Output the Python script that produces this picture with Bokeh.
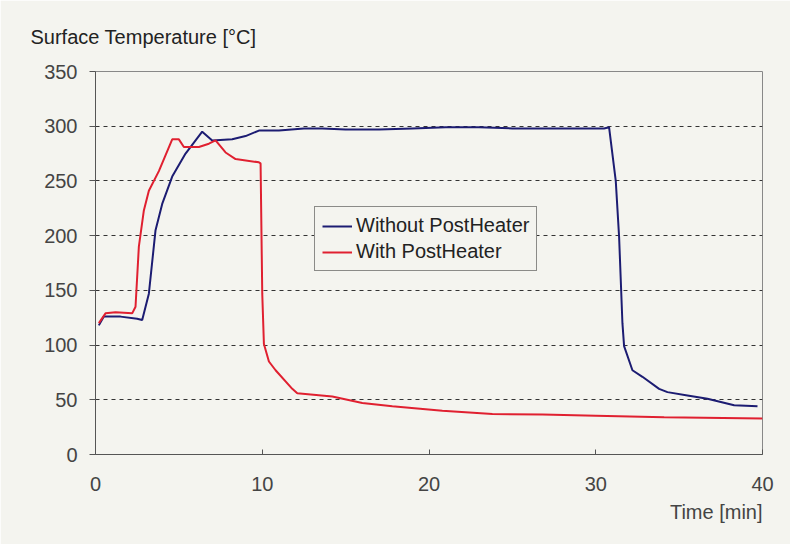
from bokeh.plotting import figure
from bokeh.models import Range1d, FixedTicker, Title, Legend, LegendItem
from bokeh.embed import file_html
from bokeh.resources import INLINE

# Data (time in minutes, surface temperature in °C)
blue_t = [0.2, 0.5, 1.5, 2.5, 2.8, 3.2, 3.6, 4.0, 4.6, 5.4, 6.4, 7.0, 8.2, 9.0, 9.8, 11.0,
          12.5, 13.6, 15, 17, 19, 21, 23, 25, 27, 29, 30.5, 30.8, 31.2, 31.4, 31.6, 31.7,
          32.2, 32.8, 33.8, 34.3, 35.5, 36.7, 38.3, 39.7]
blue_v = [118, 126, 126, 124, 123, 147, 205, 229, 254, 275, 295, 287, 288, 291, 296, 296,
          298, 298, 297, 297, 298, 299, 299, 298, 298, 298, 298, 299, 250, 199, 120, 99,
          77, 71, 60, 57, 54, 51, 45, 44]

red_t = [0.2, 0.6, 1.2, 2.2, 2.4, 2.6, 2.9, 3.2, 3.8, 4.6, 5.0, 5.3, 6.2, 6.8, 7.2, 7.8,
         8.4, 9.8, 9.9, 10.0, 10.1, 10.4, 10.8, 11.8, 12.1, 14.2, 16.0, 17.8, 20.8, 23.8,
         26.8, 30.0, 34.1, 40.0]
red_v = [120, 129, 130, 129, 135, 190, 223, 241, 259, 288, 288, 281, 281, 284, 287, 276,
         270, 267, 266, 147, 101, 85, 77, 60, 56, 53, 47, 44, 40, 37,
         36.5, 35.5, 34, 33]

x_ticks = [0, 10, 20, 30, 40]
y_ticks = [0, 50, 100, 150, 200, 250, 300, 350]
series_names = ["Without PostHeater", "With PostHeater"]

BG = "#f4f4ef"
FONT = "Liberation Sans"

p = figure(frame_width=667, frame_height=383, output_backend="svg", toolbar_location=None,
           x_range=Range1d(0, 40), y_range=Range1d(0, 350),
           min_border_left=95, min_border_right=28, min_border_top=70, min_border_bottom=90,
           background_fill_color=BG, border_fill_color=BG)

p.outline_line_color = "#888888"
p.outline_line_width = 1

# Axes
p.xaxis.ticker = FixedTicker(ticks=x_ticks)
p.yaxis.ticker = FixedTicker(ticks=y_ticks)
for ax in (p.xaxis, p.yaxis):
    ax.major_label_text_font = FONT
    ax.major_label_text_font_size = "20px"
    ax.major_label_text_color = "#444444"
    ax.axis_line_color = "#555555"
    ax.major_tick_line_color = "#555555"
    ax.minor_tick_line_color = None
p.xaxis.major_tick_in = 5
p.xaxis.major_tick_out = 0
p.xaxis.major_label_standoff = 22
p.yaxis.major_tick_in = 0
p.yaxis.major_tick_out = 6
p.yaxis.major_label_standoff = 12

# Grid
p.xgrid.grid_line_color = None
p.ygrid.grid_line_color = "#333333"
p.ygrid.grid_line_dash = "4 4"
p.ygrid.grid_line_width = 1

r1 = p.line(blue_t, blue_v, line_color="#1c1c72", line_width=2)
r2 = p.line(red_t, red_v, line_color="#e02030", line_width=2)

legend = Legend(items=[LegendItem(label=series_names[0], renderers=[r1]),
                       LegendItem(label=series_names[1], renderers=[r2])],
                location=(219, 183))
legend.label_text_font = FONT
legend.label_text_font_size = "20px"
legend.label_text_color = "#222222"
legend.border_line_color = "#222222"
legend.border_line_width = 1
legend.background_fill_color = BG
legend.background_fill_alpha = 1
legend.glyph_width = 30
legend.glyph_height = 22
legend.label_height = 22
legend.label_standoff = 4
legend.spacing = 3
legend.padding = 7
legend.margin = 0
p.add_layout(legend, "center")

t1 = Title(text="Surface Temperature [°C]", align="left", offset=-65, standoff=47,
           text_font=FONT, text_font_size="20px", text_font_style="normal",
           text_color="#222222")
p.add_layout(t1, "above")

t2 = Title(text="Time [min]", align="right", offset=0, standoff=10,
           text_font=FONT, text_font_size="20px", text_font_style="normal",
           text_color="#444444")
p.add_layout(t2, "below")

open("out.html", "w").write(file_html(p, INLINE))
